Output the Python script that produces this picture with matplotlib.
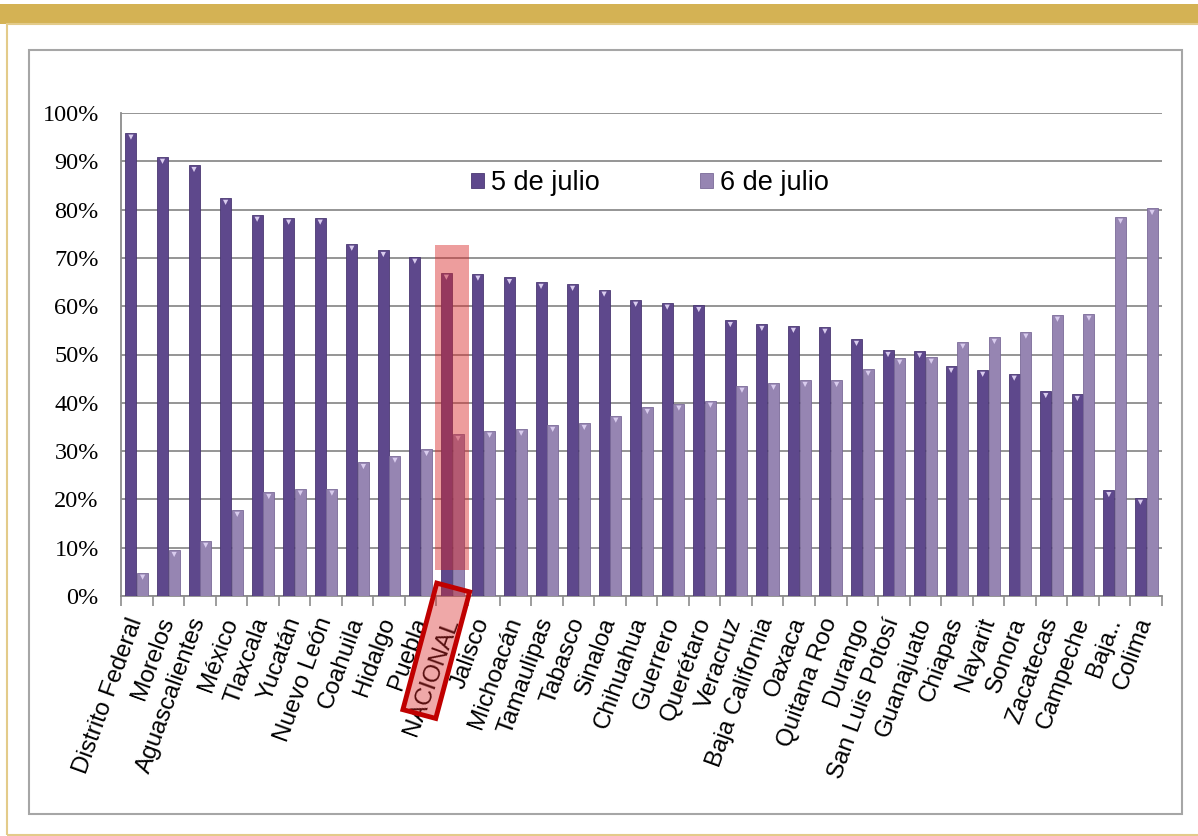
import numpy as np
import matplotlib
matplotlib.use("Agg")
import matplotlib.pyplot as plt
from matplotlib.patches import Rectangle
from matplotlib.transforms import Affine2D
from matplotlib.ticker import PercentFormatter

estados = ["Distrito Federal", "Morelos", "Aguascalientes", "México", "Tlaxcala",
           "Yucatán", "Nuevo León", "Coahuila", "Hidalgo", "Puebla", "NACIONAL",
           "Jalisco", "Michoacán", "Tamaulipas", "Tabasco", "Sinaloa", "Chihuahua",
           "Guerrero", "Querétaro", "Veracruz", "Baja California", "Oaxaca",
           "Quitana Roo", "Durango", "San Luis Potosí", "Guanajuato", "Chiapas",
           "Nayarit", "Sonora", "Zacatecas", "Campeche", "Baja..", "Colima"]

julio5 = [95.9, 90.9, 89.2, 82.4, 78.9, 78.3, 78.3, 72.9, 71.6, 70.2, 66.9,
          66.7, 66.0, 65.0, 64.6, 63.4, 61.3, 60.7, 60.2, 57.1, 56.3, 55.9,
          55.7, 53.2, 50.9, 50.7, 47.6, 46.8, 46.0, 42.4, 41.8, 21.9, 20.3]

julio6 = [4.8, 9.5, 11.4, 17.8, 21.5, 22.2, 22.2, 27.7, 29.0, 30.4, 33.5,
          34.2, 34.6, 35.4, 35.8, 37.3, 39.1, 39.8, 40.4, 43.5, 44.1, 44.7,
          44.7, 47.0, 49.3, 49.5, 52.6, 53.6, 54.7, 58.2, 58.4, 78.5, 80.3]

series = ["5 de julio", "6 de julio"]
destacado = "NACIONAL"

W, H = 1198, 836
fig = plt.figure(figsize=(W / 100, H / 100), dpi=100)
fig.patch.set_facecolor("white")

# marco dorado y recuadro gris del grafico
gold = "#D4B254"
fig.patches.append(Rectangle((0, 1 - 24 / H), 1, 20 / H, transform=fig.transFigure,
                             fc=gold, ec="none", zorder=-2))
fig.patches.append(Rectangle((7 / W, 1 / H), 1, 1 - 25 / H, transform=fig.transFigure,
                             fc="none", ec="#E3CB8A", lw=1.5, zorder=-2))
fig.patches.append(Rectangle((29 / W, 1 - 814 / H), (1182 - 29) / W, (814 - 50) / H,
                             transform=fig.transFigure, fc="white", ec="#A6A6A6",
                             lw=1.5, zorder=-1))

ax = fig.add_axes([121 / W, 1 - 596 / H, (1162 - 121) / W, (596 - 113) / H])
ax.set_facecolor("none")

x = np.arange(len(estados))
bw = 0.35
colores = ["#5E488C", "#9685B2"]
bordes = ["#4A3872", "#7A6A98"]
for k, (vals, off) in enumerate([(julio5, -bw / 2 - 0.01), (julio6, bw / 2 + 0.01)]):
    ax.bar(x + off, vals, bw, color=colores[k], edgecolor=bordes[k],
           linewidth=0.6, label=series[k], zorder=3)
    # remate claro en la parte superior de cada barra
    ax.scatter(x + off, np.array(vals) - 0.9, marker="v", s=14, color="#D9CCEE",
               edgecolor="none", zorder=3.5)

ax.set_xlim(-0.5, len(estados) - 0.5)
ax.set_ylim(0, 100)
ax.set_yticks(np.arange(0, 101, 10))
ax.yaxis.set_major_formatter(PercentFormatter(decimals=0))
ax.grid(axis="y", color="#8C8C8C", lw=1.3, zorder=0)
for s in ["top", "right"]:
    ax.spines[s].set_visible(False)
for s in ["left", "bottom"]:
    ax.spines[s].set_color("#8C8C8C")
    ax.spines[s].set_linewidth(1.3)

ax.tick_params(axis="y", length=0, pad=16)
for t in ax.get_yticklabels():
    t.set_family("Liberation Serif")
    t.set_fontsize(17.5)

ax.set_xticks(x)
ax.set_xticklabels(estados, rotation=70, ha="right", va="center",
                   rotation_mode="anchor", fontsize=17.5, family="Liberation Sans")
ax.tick_params(axis="x", which="major", length=0, pad=16)
ax.set_xticks(np.arange(-0.5, len(estados), 1), minor=True)
ax.tick_params(axis="x", which="minor", length=7, color="#8C8C8C", width=1.2)

ax.legend(loc="center", bbox_to_anchor=(0.508, 0.855), ncol=2, frameon=False,
          prop={"family": "Liberation Sans", "size": 19.5},
          handlelength=0.5, handleheight=0.5, handletextpad=0.25,
          columnspacing=3.7)

# resaltado de la columna nacional
i = estados.index(destacado)
ax.add_patch(Rectangle((i - 0.54, 5.4), 1.08, 67.2, fc=(0.85, 0.15, 0.15, 0.45),
                       ec="none", zorder=4))

fig.canvas.draw()
px, py = ax.transData.transform((i, 0))
caja = Rectangle((-131, -17), 131, 34, fc=(0.85, 0.15, 0.15, 0.4), ec="#C00000",
                 lw=3.5, transform=Affine2D().rotate_deg(75).translate(px + 1, py + 8.5),
                 clip_on=False, zorder=5)
fig.patches.append(caja)

fig.savefig("out.png", dpi=100)
